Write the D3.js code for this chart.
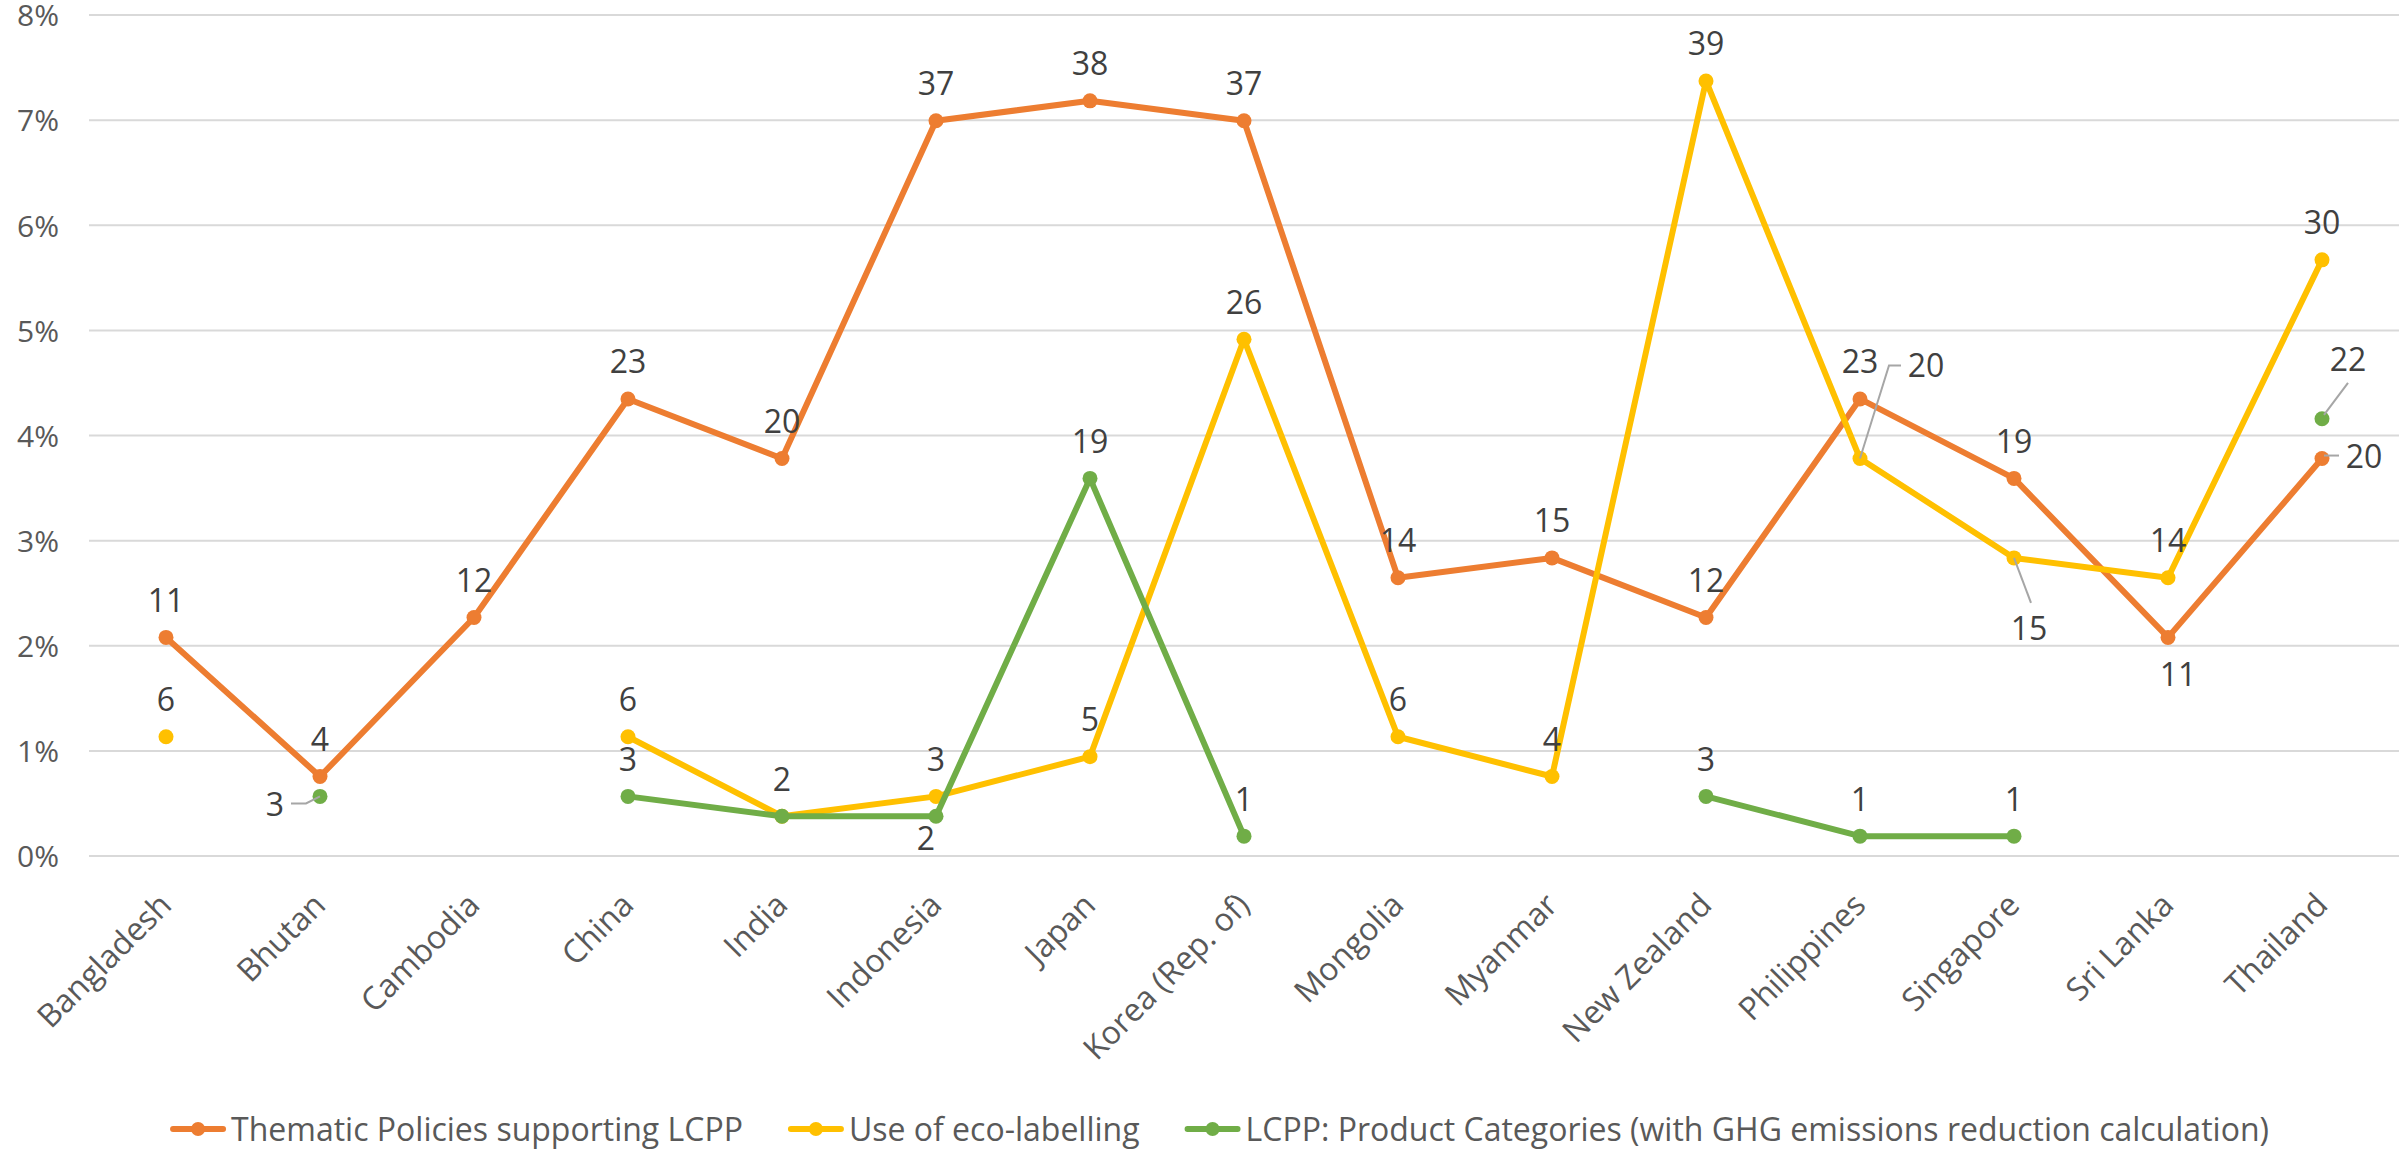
<!DOCTYPE html>
<html>
<head>
<meta charset="utf-8">
<script src="https://cdn.jsdelivr.net/npm/d3@7"></script>
<style>
  html, body { margin: 0; padding: 0; background: #ffffff; overflow: hidden; }
  svg { display: block; }
</style>
</head>
<body>
<script>
// Countries on the horizontal axis
const categories = ["Bangladesh", "Bhutan", "Cambodia", "China", "India", "Indonesia", "Japan",
  "Korea (Rep. of)", "Mongolia", "Myanmar", "New Zealand", "Philippines", "Singapore", "Sri Lanka", "Thailand"];

// Counts per country (null = not reported)
const thematicPolicies   = [11, 4, 12, 23, 20, 37, 38, 37, 14, 15, 12, 23, 19, 11, 20];
const ecoLabelling       = [6, null, null, 6, 2, 3, 5, 26, 6, 4, 39, 20, 15, 14, 30];
const productCategories  = [null, 3, null, 3, 2, 2, 19, 1, null, null, 3, 1, 1, null, 22];

const seriesNames = [
  "Thematic Policies supporting LCPP",
  "Use of eco-labelling",
  "LCPP: Product Categories (with GHG emissions reduction calculation)"
];
const seriesColors = ["#ED7D31", "#FFC000", "#70AD47"];

// Percent axis ticks
const yTicks = [0, 0.01, 0.02, 0.03, 0.04, 0.05, 0.06, 0.07, 0.08];

// Label placement: offset of the label centre from its point, optional leader polyline
const labelPlacement = {
  "0|Sri Lanka":   { dx: 10, dy: 37 },
  "0|Thailand":    { dx: 42, dy: -2, leader: [[2, -3], [17, -3]] },
  "1|Philippines": { dx: 66, dy: -93, leader: [[0, 0], [29, -93], [41, -93]] },
  "1|Singapore":   { dx: 15, dy: 71, leader: [[0, 0], [17, 45]] },
  "2|Bhutan":      { dx: -45, dy: 8, leader: [[0, 0], [-14, 7], [-29, 7]] },
  "2|Indonesia":   { dx: -10, dy: 22 },
  "2|Thailand":    { dx: 26, dy: -59, leader: [[2, -4], [26, -36]] },
  "2|India":       { hidden: true }
};

const W = 2402, H = 1152;
const plot = { left: 89, right: 2399, top: 15, bottom: 856 };
const FONT = "'Open Sans', 'DejaVu Sans', sans-serif";

const series = [thematicPolicies, ecoLabelling, productCategories];
const total = d3.sum(series.flat().filter(v => v != null));

const svg = d3.select("body").append("svg")
  .attr("width", W).attr("height", H)
  .style("background", "#ffffff");

const x = d3.scalePoint().domain(categories).range([plot.left, plot.right]).padding(0.5);
const y = d3.scaleLinear().domain([0, 0.08]).range([plot.bottom, plot.top]);

// Horizontal gridlines
svg.append("g").selectAll("line").data(yTicks).join("line")
  .attr("x1", plot.left).attr("x2", plot.right)
  .attr("y1", d => y(d)).attr("y2", d => y(d))
  .attr("stroke", "#D9D9D9").attr("stroke-width", 2);

// Y axis labels
const yAxis = svg.append("g").attr("transform", `translate(${plot.left},0)`)
  .call(d3.axisLeft(y).tickValues(yTicks).tickFormat(d3.format(".0%")).tickSize(0).tickPadding(30));
yAxis.select(".domain").remove();
yAxis.selectAll("text")
  .attr("dy", "0.36em")
  .style("font-family", FONT).style("font-size", "30px").attr("fill", "#595959");

// X axis labels, rotated
const xAxis = svg.append("g").attr("transform", `translate(0,${plot.bottom})`)
  .call(d3.axisBottom(x).tickSize(0));
xAxis.select(".domain").remove();
xAxis.selectAll("text")
  .attr("x", 0).attr("y", 0).attr("dy", 0)
  .attr("text-anchor", "end")
  .attr("transform", "translate(7,51) rotate(-45)")
  .style("font-family", FONT).style("font-size", "32px").attr("fill", "#595959");

// Series lines and markers
const line = d3.line()
  .defined(d => d.v != null)
  .x(d => x(d.c))
  .y(d => y(d.v / total));

series.forEach((vals, si) => {
  const pts = categories.map((c, i) => ({ c, v: vals[i] }));
  const g = svg.append("g");
  g.append("path").datum(pts)
    .attr("d", line)
    .attr("fill", "none")
    .attr("stroke", seriesColors[si])
    .attr("stroke-width", 6)
    .attr("stroke-linejoin", "round")
    .attr("stroke-linecap", "round");
  g.selectAll("circle").data(pts.filter(d => d.v != null)).join("circle")
    .attr("cx", d => x(d.c)).attr("cy", d => y(d.v / total))
    .attr("r", 7.5)
    .attr("fill", seriesColors[si]);
});

// Data labels with leaders
const labelLayer = svg.append("g");
series.forEach((vals, si) => {
  categories.forEach((c, i) => {
    const v = vals[i];
    if (v == null) return;
    const p = labelPlacement[`${si}|${c}`] || { dx: 0, dy: -37 };
    if (p.hidden) return;
    const px = x(c), py = y(v / total);
    if (p.leader) {
      labelLayer.append("polyline")
        .attr("points", p.leader.map(([a, b]) => `${px + a},${py + b}`).join(" "))
        .attr("fill", "none").attr("stroke", "#A6A6A6").attr("stroke-width", 2);
    }
    labelLayer.append("text")
      .attr("x", px + p.dx).attr("y", py + p.dy)
      .attr("dy", "0.36em")
      .attr("text-anchor", "middle")
      .style("font-family", FONT).style("font-size", "32px")
      .attr("fill", "#404040")
      .text(v);
  });
});

// Legend
const legend = svg.append("g");
const legendY = 1129;
let cursor = 0;
const items = seriesNames.map((name, i) => {
  const g = legend.append("g");
  g.append("line").attr("x1", 0).attr("x2", 50).attr("y1", 0).attr("y2", 0)
    .attr("stroke", seriesColors[i]).attr("stroke-width", 6).attr("stroke-linecap", "round");
  g.append("circle").attr("cx", 25).attr("cy", 0).attr("r", 7).attr("fill", seriesColors[i]);
  const t = g.append("text").attr("x", 58).attr("y", 0).attr("dy", "0.36em")
    .style("font-family", FONT).style("font-size", "32px").attr("fill", "#595959")
    .text(name);
  const w = 58 + t.node().getComputedTextLength();
  g.attr("transform", `translate(${cursor},${legendY})`);
  cursor += w + 48;
  return g;
});
const legendWidth = cursor - 48;
legend.attr("transform", `translate(${1221 - legendWidth / 2},0)`);
</script>
</body>
</html>
